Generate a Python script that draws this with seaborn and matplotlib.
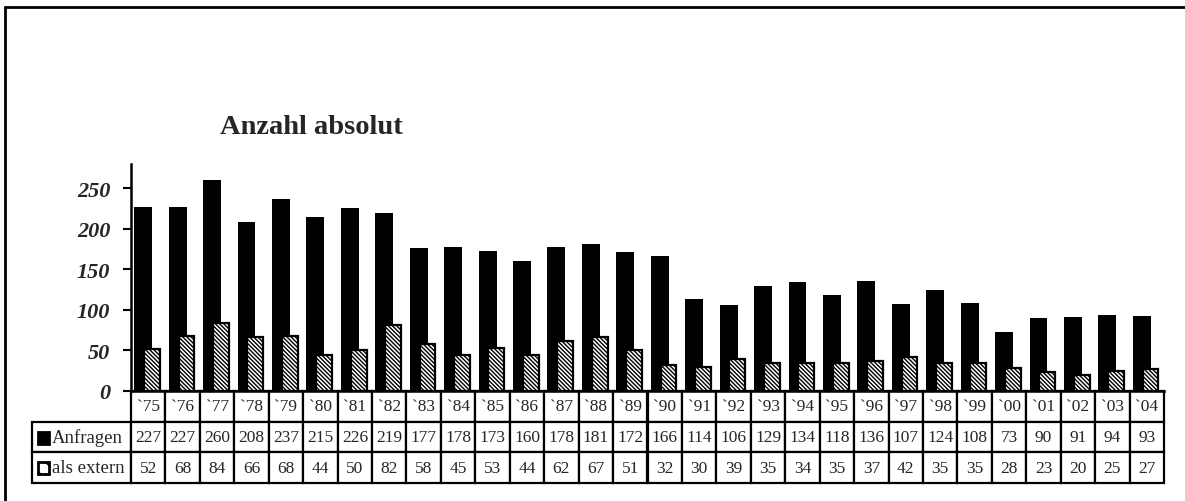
import numpy as np
import pandas as pd
import matplotlib
matplotlib.use("Agg")
import matplotlib.pyplot as plt
from matplotlib.patches import Rectangle
from matplotlib.lines import Line2D
import seaborn as sns

years = ["`75", "`76", "`77", "`78", "`79", "`80", "`81", "`82", "`83", "`84",
         "`85", "`86", "`87", "`88", "`89", "`90", "`91", "`92", "`93", "`94",
         "`95", "`96", "`97", "`98", "`99", "`00", "`01", "`02", "`03", "`04"]
anfragen = [227, 227, 260, 208, 237, 215, 226, 219, 177, 178, 173, 160, 178, 181, 172,
            166, 114, 106, 129, 134, 118, 136, 107, 124, 108, 73, 90, 91, 94, 93]
extern = [52, 68, 84, 66, 68, 44, 50, 82, 58, 45, 53, 44, 62, 67, 51,
          32, 30, 39, 35, 34, 35, 37, 42, 35, 35, 28, 23, 20, 25, 27]
series_names = ["Anfragen", "als extern"]
title = "Anzahl absolut"
yticks = [0, 50, 100, 150, 200, 250]

SERIF = ["Liberation Serif", "DejaVu Serif"]

sns.set_theme(style="white")
plt.rcParams["font.family"] = SERIF
plt.rcParams["hatch.color"] = "black"
plt.rcParams["hatch.linewidth"] = 1.0

W, H = 1185, 502
fig = plt.figure(figsize=(W / 100, H / 100), dpi=100)
fig.patch.set_facecolor("white")

# plot area in pixel terms
ax_l, ax_r, ax_t, ax_b = 131, 1164, 165, 392
ax = fig.add_axes([ax_l / W, 1 - ax_b / H, (ax_r - ax_l) / W, (ax_b - ax_t) / H])

pos = np.arange(len(years))
df_a = pd.DataFrame({"x": pos - 0.145, "y": anfragen})
df_e = pd.DataFrame({"x": pos + 0.11, "y": extern})

sns.barplot(data=df_a, x="x", y="y", native_scale=True, width=0.52,
            color="black", saturation=1, edgecolor="black", linewidth=0,
            errorbar=None, ax=ax, zorder=2)
sns.barplot(data=df_e, x="x", y="y", native_scale=True, width=0.46,
            color="white", saturation=1, edgecolor="black", linewidth=1.6,
            hatch="\\" * 8, errorbar=None, ax=ax, zorder=3)

ax.set_xlim(-0.5, len(years) - 0.5)
ax.set_ylim(0, 280)
ax.set_xlabel("")
ax.set_ylabel("")
ax.set_xticks([])
ax.set_yticks(yticks)
ax.set_yticklabels([str(v) for v in yticks], fontsize=16,
                   fontweight="bold", fontstyle="italic")
ax.tick_params(axis="y", length=6, width=1.5, color="black", pad=9, left=True)
for s in ["top", "right"]:
    ax.spines[s].set_visible(False)
ax.spines["left"].set_color("black")
ax.spines["left"].set_linewidth(1.8)
ax.spines["bottom"].set_color("black")
ax.spines["bottom"].set_linewidth(1.8)
ax.set_facecolor("white")

# data table below the plot
tab_l, tab_t, tab_b = 32, 392, 484
plot_w, plot_h = ax_r - ax_l, ax_b - ax_t
label_w = (ax_l - tab_l) / plot_w
cell_text = [[""] + years,
             [""] + [str(v) for v in anfragen],
             [""] + [str(v) for v in extern]]
col_widths = [label_w] + [1 / len(years)] * len(years)
tbl = ax.table(cellText=cell_text, colWidths=col_widths, cellLoc="center",
               bbox=[-label_w, -(tab_b - tab_t) / plot_h, 1 + label_w,
                     (tab_b - tab_t) / plot_h])
tbl.auto_set_font_size(False)
tbl.set_fontsize(12.5)
for (r, c), cell in tbl.get_celld().items():
    cell.set_edgecolor("black")
    cell.set_linewidth(1.6)
    cell.get_text().set_fontfamily(SERIF)
tbl[0, 0].visible_edges = ""

# row labels with their legend keys
row_centers = [(423 + 454) / 2, (454 + 484) / 2]
for name, yc, hatched in zip(series_names, row_centers, [False, True]):
    fig.text(52 / W, 1 - yc / H, name, ha="left", va="center",
             fontsize=13.5, family=SERIF)
    key = Rectangle((38 / W, 1 - (yc + 6) / H), 11 / W, 12 / H,
                    transform=fig.transFigure,
                    facecolor="white" if hatched else "black",
                    edgecolor="black", linewidth=2,
                    hatch="\\\\" if hatched else None)
    fig.add_artist(key)

# title
fig.text(311 / W, 1 - 128 / H, title, ha="center", va="center",
         fontsize=20.5, fontweight="bold", family=SERIF)

# chart frame
fig.add_artist(Line2D([5 / W, 5 / W], [0, 1 - 8 / H], transform=fig.transFigure,
                      color="black", linewidth=2))
fig.add_artist(Line2D([5 / W, 1], [1 - 8 / H, 1 - 8 / H], transform=fig.transFigure,
                      color="black", linewidth=2))

fig.savefig("out.png", dpi=100, facecolor="white")
